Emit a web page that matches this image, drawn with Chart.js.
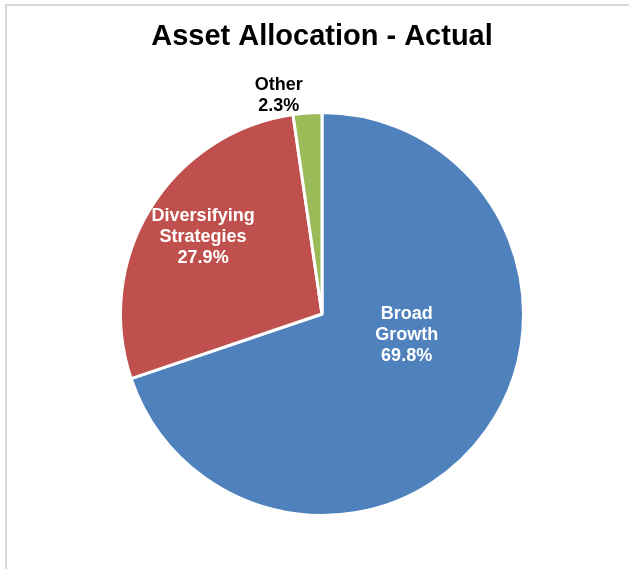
<!DOCTYPE html>
<html>
<head>
<meta charset="utf-8">
<script src="https://cdn.jsdelivr.net/npm/chart.js@4.4.0/dist/chart.umd.min.js"></script>
<style>
  html, body { margin: 0; padding: 0; background: #fff; overflow: hidden; }
  #frame { position: absolute; left: 5px; top: 4px; width: 800px; height: 800px;
           border-left: 2px solid #d9d9d9; border-top: 2px solid #d9d9d9; }
  #wrap { position: absolute; left: 0; top: 0; width: 629px; height: 569px; }
</style>
</head>
<body>
<div id="frame"></div>
<div id="wrap"><canvas id="allocation_chart" width="629" height="569"></canvas></div>
<script>
var categories = ["Broad Growth", "Diversifying Strategies", "Other"];
var allocation = [69.8, 27.9, 2.3];
var sliceColors = ["#4F81BD", "#C0504D", "#9BBB59"];

// where each data label sits, as a fraction of the radius from the centre
var labelSpots = [
    { dx: 0.42, dy: 0.105, color: "#ffffff" },
    { dx: -0.59, dy: -0.383, color: "#ffffff" },
    { dx: -0.215, dy: -1.085, color: "#000000" }
];

var pieLabels = {
    id: 'pieLabels',
    afterDatasetsDraw: function(chart) {
        var ctx = chart.ctx;
        var meta = chart.getDatasetMeta(0);
        ctx.save();
        ctx.font = "bold 18px 'Liberation Sans', Arial, sans-serif";
        ctx.textAlign = 'center';
        ctx.textBaseline = 'middle';
        meta.data.forEach(function(arc, i) {
            var r = arc.outerRadius;
            var cx = arc.x + labelSpots[i].dx * r;
            var cy = arc.y + labelSpots[i].dy * r;
            var lines = categories[i].split(' ');
            lines.push(allocation[i].toFixed(1) + '%');
            var lh = 21;
            var top = cy - (lines.length - 1) * lh / 2;
            ctx.fillStyle = labelSpots[i].color;
            for (let j = 0; j < lines.length; j++) {
                ctx.fillText(lines[j], cx, top + j * lh);
            }
        });
        ctx.restore();
    }
};

var myChart = document.getElementById('allocation_chart').getContext('2d');

var chart = new Chart(myChart, {
    type: 'pie',
    data: {
        labels: categories,
        datasets: [{
            data: allocation,
            backgroundColor: sliceColors,
            borderColor: '#ffffff',
            borderWidth: 3
        }]
    },
    options: {
        responsive: false,
        animation: false,
        layout: {
            padding: { top: 10, bottom: 52, left: 119, right: 104 }
        },
        plugins: {
            legend: { display: false },
            tooltip: { enabled: false },
            title: {
                display: true,
                text: 'Asset Allocation - Actual',
                color: '#000000',
                font: { family: "'Liberation Sans', Arial, sans-serif", size: 29, weight: 'bold', lineHeight: 1.2 },
                padding: { top: 9.5, bottom: 56.7 }
            }
        }
    },
    plugins: [pieLabels]
});
</script>
</body>
</html>
